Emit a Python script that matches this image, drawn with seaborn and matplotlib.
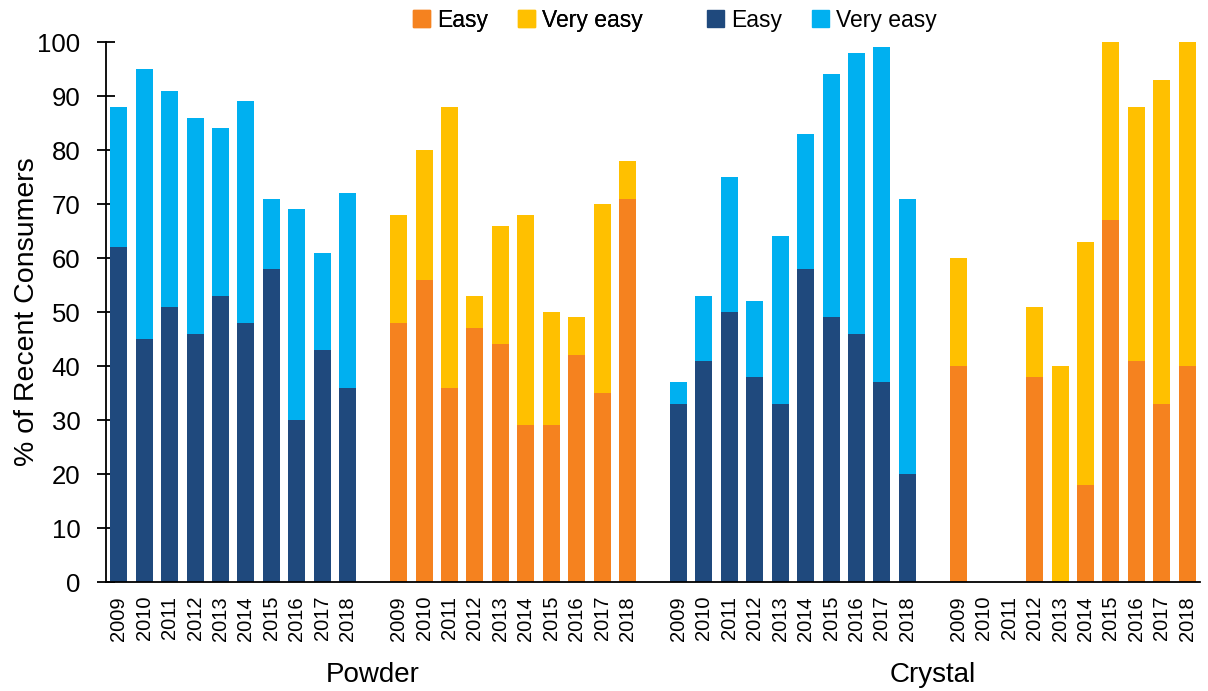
import matplotlib
matplotlib.use("Agg")
import matplotlib.pyplot as plt
from matplotlib.patches import Patch
import seaborn as sns
import pandas as pd

years = ["2009", "2010", "2011", "2012", "2013", "2014", "2015", "2016", "2017", "2018"]
groups = ["Powder", "Crystal"]

# Percent of recent consumers: "easy" share and total ("easy" + "very easy")
powder_blue_easy = [62, 45, 51, 46, 53, 48, 58, 30, 43, 36]
powder_blue_total = [88, 95, 91, 86, 84, 89, 71, 69, 61, 72]
powder_orange_easy = [48, 56, 36, 47, 44, 29, 29, 42, 35, 71]
powder_orange_total = [68, 80, 88, 53, 66, 68, 50, 49, 70, 78]
crystal_blue_easy = [33, 41, 50, 38, 33, 58, 49, 46, 37, 20]
crystal_blue_total = [37, 53, 75, 52, 64, 83, 94, 98, 99, 71]
crystal_orange_easy = [40, 0, 0, 38, 0, 18, 67, 41, 33, 40]
crystal_orange_total = [60, 0, 0, 51, 40, 63, 100, 88, 93, 100]

series = [
    ("blue", powder_blue_easy, powder_blue_total),
    ("orange", powder_orange_easy, powder_orange_total),
    ("blue", crystal_blue_easy, crystal_blue_total),
    ("orange", crystal_orange_easy, crystal_orange_total),
]

rows = []
order = []
tick_labels = []
for i, (pal, easy, total) in enumerate(series):
    if i > 0:
        gap = f"gap{i}"
        order.append(gap)
        tick_labels.append("")
    for y, e, t in zip(years, easy, total):
        slot = f"s{i}_{y}"
        order.append(slot)
        tick_labels.append(y)
        rows.append({"slot": slot, "palette": pal, "easy": e, "total": t})
df = pd.DataFrame(rows)

DARK_BLUE = "#1F497D"
LIGHT_BLUE = "#00B0F0"
ORANGE = "#F5821F"
YELLOW = "#FFC000"

sns.set_style("white")
plt.rcParams["font.family"] = ["Liberation Sans", "DejaVu Sans"]
plt.rcParams["text.color"] = "black"
plt.rcParams["axes.labelcolor"] = "black"
plt.rcParams["xtick.color"] = "black"
plt.rcParams["ytick.color"] = "black"

fig = plt.figure(figsize=(12.08, 6.91), dpi=100)
ax = fig.add_axes([106 / 1208, 1 - 582 / 691, (1200 - 106) / 1208, 540 / 691])

sns.barplot(data=df, x="slot", y="total", hue="palette", order=order,
            palette={"blue": LIGHT_BLUE, "orange": YELLOW}, dodge=False,
            saturation=1, width=0.67, linewidth=0, legend=False, ax=ax)
sns.barplot(data=df, x="slot", y="easy", hue="palette", order=order,
            palette={"blue": DARK_BLUE, "orange": ORANGE}, dodge=False,
            saturation=1, width=0.67, linewidth=0, legend=False, ax=ax)

ax.set_xlim(-0.5, len(order) - 0.5)
ax.set_ylim(0, 100)
ax.set_yticks(range(0, 101, 10))
ax.set_xticks(range(len(order)))
ax.set_xticklabels(tick_labels, rotation=90, fontsize=14.5)
ax.tick_params(axis="x", length=0, pad=10)
ax.tick_params(axis="y", direction="inout", length=13, width=1.3,
               labelsize=18.5, pad=12, left=True)
ax.set_xlabel("")
ax.set_ylabel("% of Recent Consumers", fontsize=20.5, labelpad=-2)

for side in ["top", "right"]:
    ax.spines[side].set_visible(False)
for side in ["left", "bottom"]:
    ax.spines[side].set_color("black")
    ax.spines[side].set_linewidth(1.3)

# Group captions under each pair of year blocks
ax.text(10, -0.172, groups[0], transform=ax.get_xaxis_transform(),
        ha="center", va="center", fontsize=20)
ax.text(32, -0.172, groups[1], transform=ax.get_xaxis_transform(),
        ha="center", va="center", fontsize=20)

leg_kw = dict(ncol=2, frameon=False, fontsize=16.5, handlelength=0.75,
              handleheight=0.75, handletextpad=0.3, columnspacing=1.3,
              loc="center")
leg1 = fig.legend(handles=[Patch(color=ORANGE, label="Easy"),
                           Patch(color=YELLOW, label="Very easy")],
                  bbox_to_anchor=(528 / 1208, 1 - 20 / 691), **leg_kw)
fig.legend(handles=[Patch(color=DARK_BLUE, label="Easy"),
                    Patch(color=LIGHT_BLUE, label="Very easy")],
           bbox_to_anchor=(822 / 1208, 1 - 20 / 691), **leg_kw)
fig.add_artist(leg1)

fig.savefig("out.png", dpi=100)
